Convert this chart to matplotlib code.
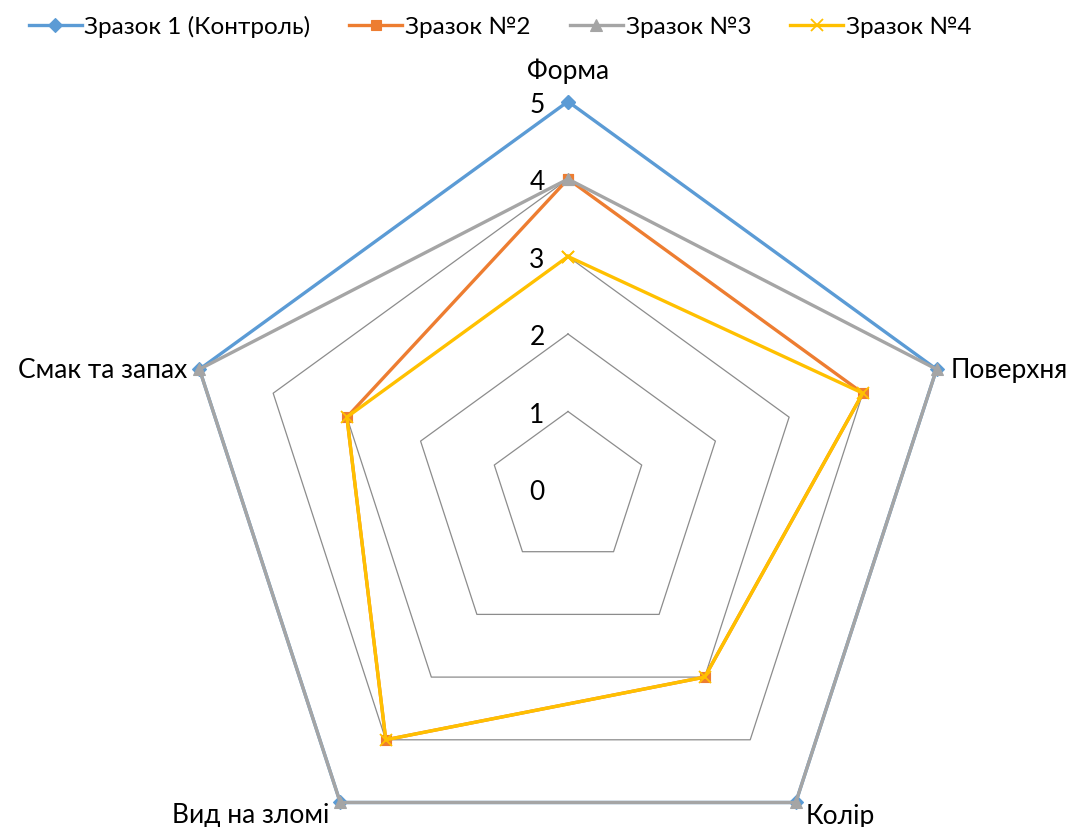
import numpy as np
import matplotlib
matplotlib.use("Agg")
import matplotlib.pyplot as plt

plt.rcParams['font.family'] = ['Lato', 'Open Sans', 'DejaVu Sans']

categories = ["Форма", "Поверхня", "Колір", "Вид на зломі", "Смак та запах"]
series_names = ["Зразок 1 (Контроль)", "Зразок №2", "Зразок №3", "Зразок №4"]
s1 = [5, 5, 5, 5, 5]
s2 = [4, 4, 3, 4, 3]
s3 = [4, 5, 5, 5, 5]
s4 = [3, 4, 3, 4, 3]
r_ticks = [0, 1, 2, 3, 4, 5]

colors = ["#5B9BD5", "#ED7D31", "#A5A5A5", "#FFC000"]
markers = ["D", "s", "^", "x"]
msizes = [7.5, 7.5, 9, 9]

FS = 19
LFS = 17.5
W, H = 1072, 828
fig = plt.figure(figsize=(W / 100, H / 100), dpi=100)
cx, cy, R = 568, 490, 387.5
ax = fig.add_axes([(cx - R) / W, (H - cy - R) / H, 2 * R / W, 2 * R / H], projection='polar')
ax.set_theta_offset(np.pi / 2)
ax.set_theta_direction(-1)
ax.set_ylim(0, 5)
ax.grid(False)
ax.set_xticks([])
ax.set_yticks([])
ax.spines['polar'].set_visible(False)
ax.patch.set_visible(False)

n = len(categories)
theta = np.arange(n) * 2 * np.pi / n
theta_c = np.concatenate([theta, theta[:1]])

# grid pentagons
for r in r_ticks[1:]:
    ax.plot(theta_c, [r] * (n + 1), color="#8C8C8C", lw=0.9, zorder=1, clip_on=False)

data = [s1, s2, s3, s4]
for vals, c, m, ms, name in zip(data, colors, markers, msizes, series_names):
    v = list(vals) + [vals[0]]
    kw = dict(markerfacecolor=c, markeredgecolor=c)
    ax.plot(theta_c, v, color=c, lw=2.4, marker=m, markersize=ms, markeredgewidth=1.3 if m == 'x' else 0.8,
            label=name, clip_on=False, zorder=3, solid_joinstyle='miter', **kw)

# radial tick labels
for r in r_ticks:
    ax.annotate(str(r), xy=(0, r), xytext=(-31, -3), textcoords='offset pixels',
                ha='center', va='center', fontsize=FS, color='#000000')

offsets = [(0, 31, 'center'), (14, 0, 'left'), (10, -13, 'left'), (-11, -12, 'right'), (-12, 0, 'right')]
for t, lab, (dx, dy, ha) in zip(theta, categories, offsets):
    ax.annotate(lab, xy=(t, 5), xytext=(dx, dy), textcoords='offset pixels',
                ha=ha, va='center', fontsize=FS, color='#000000', annotation_clip=False)

fig.legend(loc='center', bbox_to_anchor=(500 / W, 1 - 27 / H), ncol=4, frameon=False,
           fontsize=LFS, handlelength=2.18, columnspacing=1.6, handletextpad=0.12,
           borderpad=0, borderaxespad=0)

fig.savefig("out.png", dpi=100)
